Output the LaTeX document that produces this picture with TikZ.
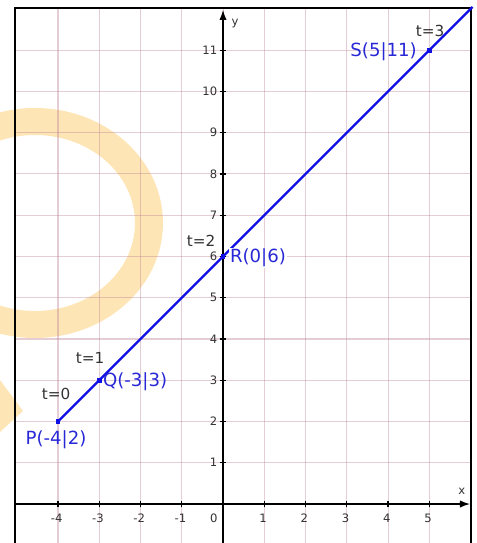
\documentclass[tikz,border=0pt]{standalone}
\usepackage{fontspec}
\setmainfont{DejaVu Sans}
\usetikzlibrary{arrows.meta}
\definecolor{orng}{RGB}{254,229,182}
\definecolor{gridc}{RGB}{190,130,150}
\definecolor{lineblue}{RGB}{15,15,230}
\definecolor{textblue}{RGB}{40,40,215}
\definecolor{ticktext}{RGB}{50,50,50}
\tikzset{
  gridline/.style={draw=gridc, opacity=0.4, line width=0.7pt},
  axisline/.style={draw=black, line width=0.9pt},
  framebox/.style={draw=black, line width=1.4pt},
  ticklab/.style={font=\fontsize{8}{9}\selectfont, text=ticktext, inner sep=0pt},
  tlab/.style={font=\fontsize{10.5}{12}\selectfont, text=ticktext, inner sep=0pt},
  ptlab/.style={font=\fontsize{12.5}{14}\selectfont, text=textblue, inner sep=1pt},
  ptmark/.style={fill=lineblue, minimum size=3.2pt, inner sep=0pt, draw=none, rectangle},
  vecline/.style={draw=lineblue, line width=1.5pt},
}
\begin{document}
\begin{tikzpicture}
\useasboundingbox (-5.406,-0.945) rectangle (6.133,12.218);
\clip (-5.406,-0.945) rectangle (6.133,12.218);
% watermark
\fill[orng, even odd rule] (-4.558,6.812) ellipse [x radius=3.103, y radius=2.788]
  (-4.558,6.812) ellipse [x radius=2.424, y radius=2.133];
\fill[orng] (-5.406,3.006) -- (-4.848,2.255) -- (-5.406,1.745) -- cycle;
% grid
\foreach \x in {-4,...,5} \draw[gridline] (\x,-0.945) -- (\x,12.02);
\foreach \y in {1,...,11} \draw[gridline] (-5.04,\y) -- (6.01,\y);
% frame
\draw[framebox] (-5.04,-2) -- (-5.04,12.02) -- (6.01,12.02) -- (6.01,-2);
% axes
\coordinate (xs) at (-5.04,0);
\coordinate (xe) at (5.99,0);
\coordinate (ys) at (0,-0.945);
\coordinate (ye) at (0,11.98);
\draw[axisline, -{Latex[length=7pt,width=5pt]}] (xs) -- (xe);
\draw[axisline, -{Latex[length=7pt,width=5pt]}] (ys) -- (ye);
\node[ticklab] (xl) at (5.79,0.315) {x};
\node[ticklab] (yl) at (0.29,11.64) {y};
% ticks
\foreach \x in {-4,-3,-2,-1,1,2,3,4,5} {
  \draw[axisline] (\x,-0.08) -- (\x,0.08);
  \node[ticklab] at (\x-0.03,-0.34) {\x};
}
\node[ticklab] (x0) at (-0.22,-0.34) {0};
\foreach \y in {1,...,11} {
  \draw[axisline] (-0.08,\y) -- (0.08,\y);
  \node[ticklab, anchor=east] at (-0.135,\y) {\y};
}
% line
\coordinate (P) at (-4,2);
\coordinate (Q) at (-3,3);
\coordinate (R) at (0,6);
\coordinate (S) at (5,11);
\coordinate (E) at (6.05,12.05);
\draw[vecline] (P) -- (E);
\node[ptmark] (pm) at (P) {};
\node[ptmark] (qm) at (Q) {};
\node[ptmark] (rm) at (R) {};
\node[ptmark] (sm) at (S) {};
% labels
\node[ptlab] (pl) at (-4.048,1.552) {P(-4|2)};
\node[ptlab, anchor=west] (ql) at (-2.95,2.958) {Q(-3|3)};
\node[ptlab, anchor=west, fill=white, inner sep=0.5pt] (rl) at (0.145,5.964) {R(0|6)};
\node[ptlab, anchor=east] (sl) at (4.74,10.958) {S(5|11)};
\node[tlab] (t0) at (-4.048,2.667) {t=0};
\node[tlab] (t1) at (-3.224,3.539) {t=1};
\node[tlab] (t2) at (-0.533,6.376) {t=2};
\node[tlab] (t3) at (5.018,11.467) {t=3};
\end{tikzpicture}
\end{document}
